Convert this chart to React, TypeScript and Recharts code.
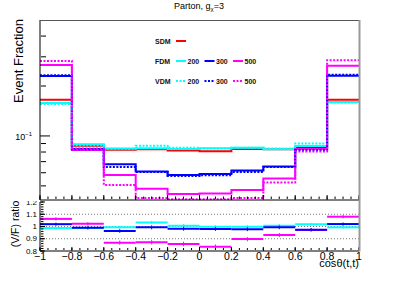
import React from 'react';
import { LineChart, Line, XAxis, YAxis, ComposedChart, Scatter, ErrorBar, ReferenceLine } from 'recharts';

const FONT = '"Liberation Sans", Arial, Helvetica, sans-serif';

// ---- data ----
const binEdges = [-1, -0.8, -0.6, -0.4, -0.2, 0, 0.2, 0.4, 0.6, 0.8, 1];
const binCenters = [-0.9, -0.7, -0.5, -0.3, -0.1, 0.1, 0.3, 0.5, 0.7, 0.9];

const sdm = [0.165, 0.0874, 0.0827, 0.0832, 0.0816, 0.081, 0.0835, 0.083, 0.0855, 0.165];
const fdm200 = [0.158, 0.0891, 0.0839, 0.0843, 0.0835, 0.0843, 0.085, 0.0832, 0.087, 0.16];
const fdm300 = [0.23, 0.0835, 0.0675, 0.061, 0.0582, 0.059, 0.0618, 0.0654, 0.0843, 0.231];
const fdm500 = [0.268, 0.0823, 0.0582, 0.048, 0.0447, 0.045, 0.0473, 0.0553, 0.0835, 0.265];
const vdm200 = [0.156, 0.0879, 0.0836, 0.0872, 0.085, 0.0841, 0.085, 0.084, 0.09, 0.159];
const vdm300 = [0.232, 0.083, 0.065, 0.0607, 0.0574, 0.058, 0.0607, 0.065, 0.0822, 0.234];
const vdm500 = [0.283, 0.084, 0.0507, 0.0422, 0.0415, 0.0415, 0.0422, 0.0524, 0.0806, 0.286];

const ratio200 = [0.987, 0.987, 0.993, 1.032, 1.007, 0.997, 0.997, 1.007, 1.018, 0.993];
const ratio300 = [1.019, 0.99, 0.963, 0.993, 0.982, 0.98, 0.978, 0.993, 0.974, 1.02];
const ratio500 = [1.062, 1.022, 0.868, 0.871, 0.857, 0.834, 0.897, 0.93, 0.972, 1.08];
const err200 = [0.012, 0.012, 0.013, 0.014, 0.014, 0.014, 0.014, 0.013, 0.012, 0.012];
const err300 = [0.013, 0.013, 0.015, 0.016, 0.016, 0.016, 0.016, 0.015, 0.013, 0.013];
const err500 = [0.014, 0.014, 0.017, 0.018, 0.019, 0.019, 0.018, 0.017, 0.014, 0.014];

// ---- ticks ----
const majorX = [-1, -0.8, -0.6, -0.4, -0.2, 0, 0.2, 0.4, 0.6, 0.8, 1];
const xTickLabels = ['\u22121', '\u22120.8', '\u22120.6', '\u22120.4', '\u22120.2', '0', '0.2', '0.4', '0.6', '0.8', '1'];
const minorX = [-1, -0.95, -0.9, -0.85, -0.8, -0.75, -0.7, -0.65, -0.6, -0.55, -0.5, -0.45, -0.4, -0.35, -0.3, -0.25, -0.2, -0.15, -0.1, -0.05, 0,
  0.05, 0.1, 0.15, 0.2, 0.25, 0.3, 0.35, 0.4, 0.45, 0.5, 0.55, 0.6, 0.65, 0.7, 0.75, 0.8, 0.85, 0.9, 0.95, 1];
const mainMajorY = [0.1];
const mainMinorY = [0.05, 0.06, 0.07, 0.08, 0.09, 0.2, 0.3, 0.4];
const mainYDomain = [0.0411, 0.5];
const ratioMajorY = [0.8, 0.9, 1, 1.1, 1.2];
const ratioYLabels = ['0.8', '0.9', '1', '1.1', '1.2'];
const ratioMinorY = [0.8, 0.82, 0.84, 0.86, 0.88, 0.9, 0.92, 0.94, 0.96, 0.98, 1, 1.02, 1.04, 1.06, 1.08, 1.1, 1.12, 1.14, 1.16, 1.18, 1.2];
const ratioGrid = [0.9, 1, 1.1];

type Def = { key: string; values: number[]; group: string; mass: string; color: string; dotted: boolean };
const seriesDefs: Def[] = [
  { key: 'sdm', values: sdm, group: 'SDM', mass: '', color: '#ff0000', dotted: false },
  { key: 'f200', values: fdm200, group: 'FDM', mass: '200', color: '#00ffff', dotted: false },
  { key: 'f300', values: fdm300, group: 'FDM', mass: '300', color: '#0000ff', dotted: false },
  { key: 'f500', values: fdm500, group: 'FDM', mass: '500', color: '#ff00ff', dotted: false },
  { key: 'v200', values: vdm200, group: 'VDM', mass: '200', color: '#00ffff', dotted: true },
  { key: 'v300', values: vdm300, group: 'VDM', mass: '300', color: '#0000ff', dotted: true },
  { key: 'v500', values: vdm500, group: 'VDM', mass: '500', color: '#ff00ff', dotted: true },
];

const ratioDefs = [
  { key: 'r500', values: ratio500, errs: err500, color: '#ff00ff' },
  { key: 'r200', values: ratio200, errs: err200, color: '#00ffff' },
  { key: 'r300', values: ratio300, errs: err300, color: '#0000ff' },
];

const mainTable = binEdges.map((x, i) => {
  const j = Math.min(i, binCenters.length - 1);
  const row: Record<string, number> = { x };
  seriesDefs.forEach((d) => { row[d.key] = d.values[j]; });
  return row;
});

const ratioData = (vals: number[], errs: number[]) =>
  binCenters.map((x, i) => ({ x, y: vals[i], ex: (binEdges[i + 1] - binEdges[i]) / 2, ey: errs[i] }));

// ---- tick renderers ----
const NoTick = () => <g />;
const MainYLabel = (p: any) => (
  <text x={p.x - 8} y={p.y + 4.5} textAnchor="end" fontSize={9} fontFamily={FONT} fill="#000">
    10<tspan dy={-4} fontSize={6}>{'\u22121'}</tspan>
  </text>
);
const RatioYLabel = (p: any) => {
  const idx = ratioMajorY.findIndex((v) => Math.abs(v - p.payload.value) < 1e-6);
  return (
    <text x={p.x - 3} y={p.y + 2.5} textAnchor="end" fontSize={8} fontFamily={FONT} fill="#000">
      {ratioYLabels[idx]}
    </text>
  );
};
const XLabel = (p: any) => {
  const idx = majorX.findIndex((v) => Math.abs(v - p.payload.value) < 1e-6);
  return (
    <text x={p.x} y={p.y + 8.5} textAnchor="middle" fontSize={10.5} fontFamily={FONT} fill="#000">
      {xTickLabels[idx]}
    </text>
  );
};

const axisStroke = { stroke: '#000', strokeWidth: 1 };

function Legend() {
  const rows = ['SDM', 'FDM', 'VDM'];
  return (
    <g fontFamily={FONT} fontWeight="bold" fontSize={7} fill="#111">
      {rows.map((g, r) => {
        const y = 41 + r * 20;
        const items = seriesDefs.filter((d) => d.group === g);
        return (
          <g key={g}>
            <text x={155} y={y + 2.5}>{g}</text>
            {items.map((d, k) => {
              const x0 = 176 + k * 28.5;
              return (
                <g key={d.key}>
                  <line x1={x0} x2={x0 + 10} y1={y} y2={y} stroke={d.color} strokeWidth={2}
                    strokeDasharray={d.dotted ? '2 1.5' : undefined} />
                  {d.mass && <text x={x0 + 11.5} y={y + 2.5}>{d.mass}</text>}
                </g>
              );
            })}
          </g>
        );
      })}
    </g>
  );
}

export default function App() {
  return (
    <div style={{ position: 'absolute', left: 0, top: 0, width: 399, height: 288, background: '#fff', overflow: 'hidden' }}>
      {/* ratio panel */}
      <div style={{ position: 'absolute', left: 0, top: 0 }}>
        <ComposedChart width={399} height={288} margin={{ top: 202, right: 40, left: 0, bottom: 36 }}>
          <XAxis xAxisId="r" type="number" dataKey="x" domain={[-1, 1]} allowDataOverflow ticks={majorX} interval={0}
            height={1} tickLine={false} tickSize={0} tickMargin={0} axisLine={false} tick={XLabel} />
          <XAxis xAxisId="rmaj" type="number" dataKey="x" domain={[-1, 1]} allowDataOverflow ticks={majorX} interval={0}
            height={1} mirror tickSize={4} axisLine={axisStroke} tick={NoTick} tickLine={axisStroke} />
          <XAxis xAxisId="rmin" type="number" dataKey="x" domain={[-1, 1]} allowDataOverflow ticks={minorX} interval={0}
            height={1} mirror tickSize={2} axisLine={false} tick={NoTick} tickLine={axisStroke} />
          <YAxis yAxisId="r" type="number" dataKey="y" domain={[0.8, 1.2]} allowDataOverflow ticks={ratioMajorY} interval={0}
            width={40} tickLine={false} tickSize={0} tickMargin={0} axisLine={axisStroke} tick={RatioYLabel} />
          <YAxis yAxisId="rmaj" type="number" domain={[0.8, 1.2]} allowDataOverflow ticks={ratioMajorY} interval={0}
            width={1} mirror tickSize={5} axisLine={false} tick={NoTick} tickLine={axisStroke} />
          <YAxis yAxisId="rmin" type="number" domain={[0.8, 1.2]} allowDataOverflow ticks={ratioMinorY} interval={0}
            width={1} mirror tickSize={2.5} axisLine={false} tick={NoTick} tickLine={axisStroke} />
          {ratioGrid.map((v) => (
            <ReferenceLine key={v} xAxisId="r" yAxisId="r" y={v} stroke="#777" strokeDasharray="1 2" strokeWidth={1} />
          ))}
          {ratioDefs.map((d) => (
            <Scatter key={d.key} xAxisId="r" yAxisId="r" data={ratioData(d.values, d.errs)} dataKey="y"
              fill={d.color} shape={NoTick} isAnimationActive={false}>
              <ErrorBar dataKey="ex" direction="x" width={0} stroke={d.color} strokeWidth={2} isAnimationActive={false} />
              <ErrorBar dataKey="ey" direction="y" width={0} stroke={d.color} strokeWidth={1} isAnimationActive={false} />
            </Scatter>
          ))}
        </ComposedChart>
      </div>
      {/* main panel */}
      <div style={{ position: 'absolute', left: 0, top: 0, width: 399, height: 201, background: '#fff' }}>
        <LineChart width={399} height={201} data={mainTable} margin={{ top: 20, right: 40, left: 0, bottom: 1 }}>
          <XAxis xAxisId="m" type="number" dataKey="x" domain={[-1, 1]} allowDataOverflow ticks={majorX} interval={0}
            height={1} mirror tickSize={5} axisLine={axisStroke} tick={NoTick} tickLine={axisStroke} />
          <XAxis xAxisId="mmin" type="number" dataKey="x" domain={[-1, 1]} allowDataOverflow ticks={minorX} interval={0}
            height={1} mirror tickSize={2.5} axisLine={false} tick={NoTick} tickLine={axisStroke} />
          <YAxis yAxisId="m" type="number" scale="log" domain={mainYDomain} allowDataOverflow ticks={mainMajorY} interval={0}
            width={40} tickLine={false} tickSize={0} tickMargin={0} axisLine={axisStroke} tick={MainYLabel} />
          <YAxis yAxisId="mmaj" type="number" scale="log" domain={mainYDomain} allowDataOverflow ticks={mainMajorY} interval={0}
            width={1} mirror tickSize={10} axisLine={false} tick={NoTick} tickLine={axisStroke} />
          <YAxis yAxisId="mmin" type="number" scale="log" domain={mainYDomain} allowDataOverflow ticks={mainMinorY} interval={0}
            width={1} mirror tickSize={5} axisLine={false} tick={NoTick} tickLine={axisStroke} />
          {seriesDefs.map((d) => (
            <Line key={d.key} xAxisId="m" yAxisId="m" type="stepAfter" dataKey={d.key} stroke={d.color} strokeWidth={2}
              strokeDasharray={d.dotted ? '2 1.5' : undefined} dot={false} activeDot={false} isAnimationActive={false} />
          ))}
        </LineChart>
      </div>
      {/* annotations */}
      <svg width={399} height={288} style={{ position: 'absolute', left: 0, top: 0, pointerEvents: 'none' }}>
        <line x1={40} x2={359} y1={20.5} y2={20.5} stroke="#555" strokeWidth={1} />
        <line x1={359.5} x2={359.5} y1={20} y2={251.5} stroke="#9a9a9a" strokeWidth={2} />
        <text x={199} y={8.5} textAnchor="middle" fontFamily={FONT} fontSize={9} fill="#000">
          Parton, g<tspan dy={2.5} fontSize={6}>{'\u03c7'}</tspan><tspan dy={-2.5}>=3</tspan>
        </text>
        <text transform="translate(23,61) rotate(-90)" textAnchor="middle" fontFamily={FONT} fontSize={13} fill="#000">
          Event Fraction
        </text>
        <text transform="translate(19,224) rotate(-90)" textAnchor="middle" fontFamily={FONT} fontSize={10.5} fill="#000">
          (V/F) ratio
        </text>
        <text x={359} y={267} textAnchor="end" fontFamily={FONT} fontSize={11} fill="#000">
          cos{'\u03b8'}(t,t)
        </text>
        <Legend />
      </svg>
    </div>
  );
}
